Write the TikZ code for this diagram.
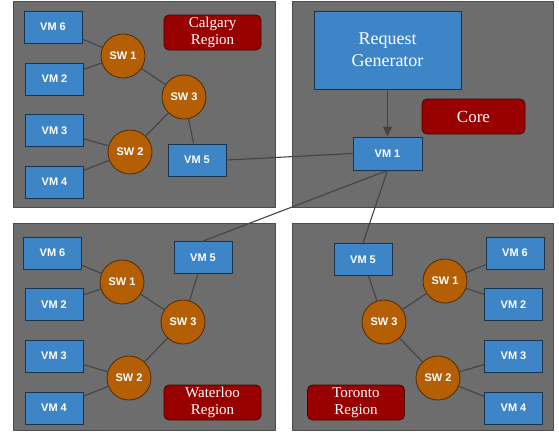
\documentclass[tikz,border=0pt]{standalone}
\usepackage{fontspec}
\setmainfont{Liberation Serif}
\setsansfont{Liberation Sans}
\usetikzlibrary{arrows.meta}
\definecolor{panelgray}{HTML}{6D6D6D}
\definecolor{vmblue}{HTML}{3D85C6}
\definecolor{swbrown}{HTML}{B45F06}
\definecolor{regred}{HTML}{990000}
\definecolor{wire}{HTML}{444444}
\tikzset{
  panel/.style={draw=black!70, fill=panelgray, line width=0.8pt},
  vm/.style={draw=black!60!vmblue, fill=vmblue, line width=0.8pt, minimum width=58pt, minimum height=32pt, inner sep=0pt, text=white, font=\sffamily\bfseries\fontsize{11}{13}\selectfont},
  sw/.style={circle, draw=black!55!swbrown, fill=swbrown, line width=0.8pt, minimum size=44pt, inner sep=0pt, text=white, font=\sffamily\bfseries\fontsize{11}{13}\selectfont},
  region/.style={draw=black!50!regred, fill=regred, rounded corners=5pt, line width=0.8pt, minimum width=97pt, minimum height=35pt, inner sep=0pt, text=white, align=center, font=\fontsize{15}{17}\selectfont},
  link/.style={draw=wire, line width=1.1pt}
}
\begin{document}
\begin{tikzpicture}[x=1pt, y=-1pt, >={Triangle[length=10pt,width=9pt]}, line join=round]
\useasboundingbox[fill=white] (0,0) rectangle (559,437);
% four panels
\draw[panel] (13,1) rectangle (275,207);
\draw[panel] (292,1) rectangle (553,207);
\draw[panel] (13,223) rectangle (275,430);
\draw[panel] (292,223) rectangle (553,430);

% core
\node[vm, minimum width=147pt, minimum height=78pt, font=\fontsize{18}{22}\selectfont, align=center] (gen) at (387.5,50) {Request\\Generator};
\node[region, minimum width=103pt, font=\fontsize{17}{20}\selectfont] (core) at (473.5,116.5) {Core};
\node[vm, minimum width=69pt, minimum height=33pt] (vm1) at (387.5,153.5) {VM 1};

% Calgary
\node[region] (cr) at (212.5,32.5) {Calgary\\Region};
\foreach \n/\x/\y in {6/53/27, 2/54.5/79, 3/54.5/130.5, 4/54.5/182, 5/197/160}
  \node[vm] (c\n) at (\x,\y) {VM \n};
\foreach \n/\x/\y in {1/123/56, 3/184/97, 2/130/152}
  \node[sw] (cs\n) at (\x,\y) {SW \n};

% Waterloo
\node[region] (wr) at (212.5,402.5) {Waterloo\\Region};
\foreach \n/\x/\y in {6/52.5/253, 2/54/304.5, 3/54/356, 4/54/408, 5/203/257.5}
  \node[vm] (w\n) at (\x,\y) {VM \n};
\foreach \n/\x/\y in {1/122/282, 3/183/322, 2/129/378}
  \node[sw] (ws\n) at (\x,\y) {SW \n};

% Toronto
\node[region] (tr) at (356,402.5) {Toronto\\Region};
\foreach \n/\x/\y in {6/515/253, 2/513.5/304.5, 3/513.5/356, 4/513.5/408, 5/363/259.5}
  \node[vm] (t\n) at (\x,\y) {VM \n};
\foreach \n/\x/\y in {1/445/281, 3/384/322, 2/438/378}
  \node[sw] (ts\n) at (\x,\y) {SW \n};

% links inside each region
\foreach \r in {c,w,t} {
  \draw[link] (\r6) -- (\r s1);
  \draw[link] (\r2) -- (\r s1);
  \draw[link] (\r3) -- (\r s2);
  \draw[link] (\r4) -- (\r s2);
  \draw[link] (\r s1) -- (\r s3);
  \draw[link] (\r s2) -- (\r s3);
  \draw[link] (\r5) -- (\r s3);
}

% links to the core
\draw[link, ->] (gen) -- (vm1);
\draw[link] (c5.east) -- (vm1.west);
\draw[link] (vm1.south) -- (w5.north);
\draw[link] (vm1.south) -- (t5.north);
\end{tikzpicture}
\end{document}
